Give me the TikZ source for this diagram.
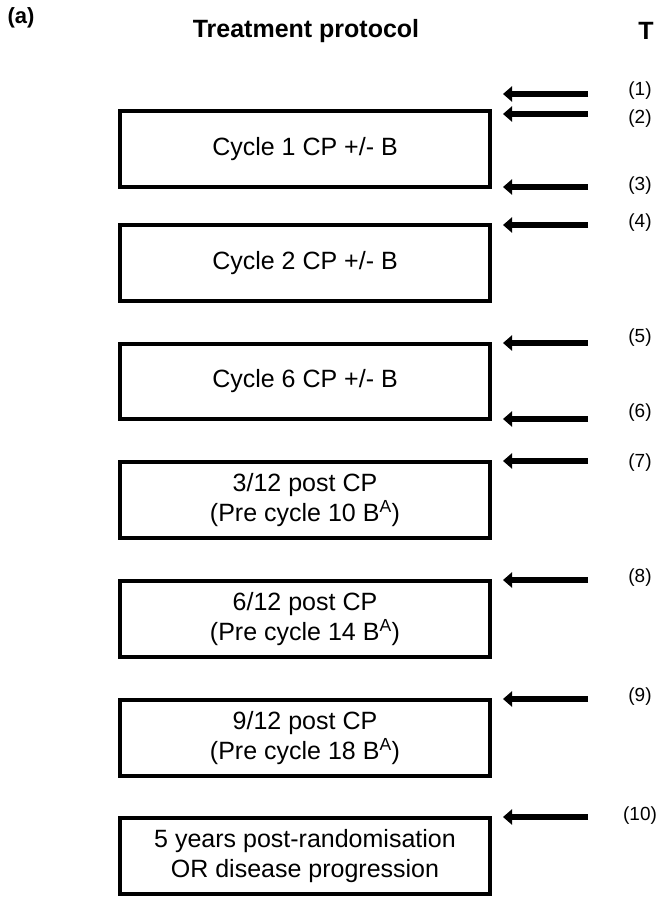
\documentclass[tikz,border=0pt]{standalone}
\usepackage{fontspec}
\setmainfont{Liberation Sans}
\usetikzlibrary{arrows.meta}
\tikzset{
  stagebox/.style={draw=black, line width=3.8pt, minimum width=370pt, align=center,
    font=\fontsize{25}{30}\selectfont, inner sep=0pt},
  tarrow/.style={line width=6.5pt, -{Triangle[length=9pt,width=15pt]}},
  tlabel/.style={font=\fontsize{19}{22}\selectfont, inner sep=0pt},
  header/.style={font=\bfseries\fontsize{25}{29}\selectfont, inner sep=0pt}
}
\begin{document}
\begin{tikzpicture}[x=1pt,y=1pt]
\useasboundingbox (0,0) rectangle (663,-900);
\fill[white] (0,0) rectangle (663,-900);

\node[header, font=\bfseries\fontsize{22}{26}\selectfont] (lab) at (21,-18) {(a)};
\node[header] (title) at (306,-31) {Treatment protocol};
\node[header] (tcol) at (646,-31) {T};

% boxes: center y = (top+bottom)/2, height = bottom-top
\node[stagebox, minimum height=76pt] (b1) at (305,-149) {Cycle 1 CP +/- B};
\node[stagebox, minimum height=76pt] (b2) at (305,-263) {Cycle 2 CP +/- B};
\node[stagebox, minimum height=75pt] (b3) at (305,-381.5) {Cycle 6 CP +/- B};
\node[stagebox, minimum height=76pt] (b4) at (305,-500) {3/12 post CP\\(Pre cycle 10 B\textsuperscript{A})};
\node[stagebox, minimum height=76pt] (b5) at (305,-619) {6/12 post CP\\(Pre cycle 14 B\textsuperscript{A})};
\node[stagebox, minimum height=76pt] (b6) at (305,-738) {9/12 post CP\\(Pre cycle 18 B\textsuperscript{A})};
\node[stagebox, minimum height=76pt] (b7) at (305,-856) {5 years post-randomisation\\OR disease progression};

% arrows
\foreach \i/\y in {1/94, 2/114, 3/187, 4/225, 5/343, 6/419, 7/461, 8/580, 9/699, 10/817} {
  \coordinate (s\i) at (588,-\y);
  \coordinate (e\i) at (503,-\y);
  \draw[tarrow] (s\i) -- (e\i);
}

% labels
\foreach \i/\y in {1/91, 2/119, 3/186, 4/223, 5/338, 6/413, 7/463, 8/578, 9/697, 10/816} {
  \node[tlabel] (l\i) at (640,-\y) {(\i)};
}
\end{tikzpicture}
\end{document}
